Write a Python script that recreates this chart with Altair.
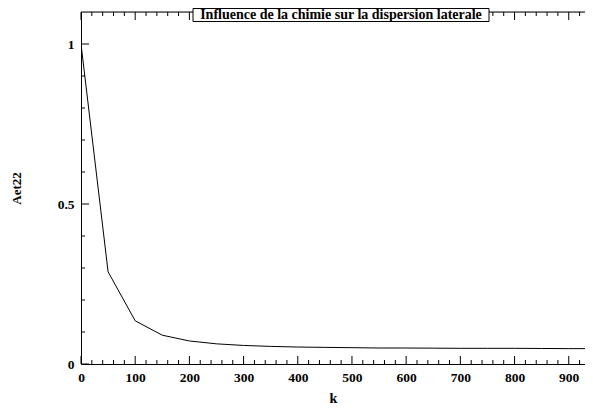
import altair as alt
import pandas as pd

# data
k_values = [0, 50, 100, 150, 200, 250, 300, 350, 400, 450, 500, 550, 600, 650, 700, 750, 800, 850, 900, 950]
aet22 = [1.0, 0.288, 0.135, 0.090, 0.072, 0.063, 0.058, 0.055, 0.053, 0.052, 0.051, 0.050, 0.050, 0.0495, 0.049, 0.049, 0.049, 0.0485, 0.048, 0.048]

x_major = [0, 100, 200, 300, 400, 500, 600, 700, 800, 900]
x_minor = [v for v in range(20, 950, 20) if v % 100 != 0]
y_major = [0, 0.5, 1.0]
y_minor = [0.1, 0.2, 0.3, 0.4, 0.6, 0.7, 0.8, 0.9]

title_text = "Influence de la chimie sur la dispersion laterale"
x_title = "k"
y_title = "Aet22"

W, H = 504, 352
FONT = "Liberation Serif, Times New Roman, Times, serif"
XD = [0, 930]
YD = [0, 1.1]

df = pd.DataFrame({"k": k_values, "a": aet22})
xs = alt.Scale(domain=XD, nice=False, zero=False)
ys = alt.Scale(domain=YD, nice=False, zero=False)

line = alt.Chart(df).mark_line(color="black", strokeWidth=1, clip=True).encode(
    x=alt.X("k:Q", scale=xs,
            axis=alt.Axis(values=x_major, ticks=False, grid=False, domainColor="black",
                          labelFont=FONT, labelFontWeight="bold", labelFontSize=13.5,
                          labelColor="black", labelPadding=6, labelFlush=False,
                          title=x_title, titleFont=FONT, titleFontWeight="bold",
                          titleFontSize=14, titleColor="black", titlePadding=8)),
    y=alt.Y("a:Q", scale=ys,
            axis=alt.Axis(values=y_major, format="~g", ticks=False, grid=False, domainColor="black",
                          labelFont=FONT, labelFontWeight="bold", labelFontSize=13.5,
                          labelColor="black", labelPadding=7, labelFlush=False,
                          title=y_title, titleFont=FONT, titleFontWeight="bold",
                          titleFontSize=13, titleColor="black", titlePadding=34)),
)

def xticks(vals, length):
    d = pd.DataFrame({"k": [v for v in vals if v <= XD[1]]})
    bottom = alt.Chart(d).mark_rule(color="black", strokeWidth=1).encode(
        x=alt.X("k:Q", scale=xs), y=alt.value(H), y2=alt.value(H - length))
    top = alt.Chart(d).mark_rule(color="black", strokeWidth=1).encode(
        x=alt.X("k:Q", scale=xs), y=alt.value(0), y2=alt.value(length))
    return [bottom, top]

def yticks(vals, length):
    d = pd.DataFrame({"a": vals})
    left = alt.Chart(d).mark_rule(color="black", strokeWidth=1).encode(
        y=alt.Y("a:Q", scale=ys), x=alt.value(0), x2=alt.value(length))
    return [left]

top_line = alt.Chart(pd.DataFrame({"z": [0]})).mark_rule(color="black", strokeWidth=1).encode(
    x=alt.value(0), x2=alt.value(W), y=alt.value(0))

tdf = pd.DataFrame({"t": [title_text]})
box = alt.Chart(tdf).mark_rect(fill="white", stroke="black", strokeWidth=1).encode(
    x=alt.value(112), x2=alt.value(408), y=alt.value(-3.5), y2=alt.value(9.5))
ttext = alt.Chart(tdf).mark_text(font=FONT, fontWeight="bold", fontSize=14, color="black",
                                 baseline="middle", align="center").encode(
    x=alt.value(260), y=alt.value(2.5), text="t:N")

layers = ([line, top_line] + xticks(x_major, 8) + xticks(x_minor, 4)
          + yticks(y_major, 8) + yticks(y_minor, 4) + [box, ttext])

chart = alt.layer(*layers).properties(
    width=W, height=H,
    autosize=alt.AutoSizeParams(type="none"),
    padding={"left": 73, "top": 4, "right": 0, "bottom": 44},
).configure_view(stroke=None).configure(background="white")

chart.save("out.html", embed_options={"renderer": "svg", "actions": False})
